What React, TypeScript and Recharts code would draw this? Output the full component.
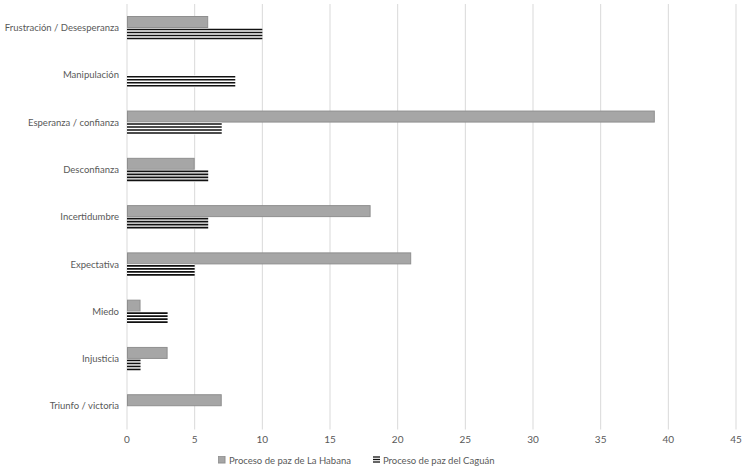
import { BarChart, Bar, XAxis, YAxis, CartesianGrid, Legend } from "recharts";

const categories = [
  "Frustración / Desesperanza",
  "Manipulación",
  "Esperanza / confianza",
  "Desconfianza",
  "Incertidumbre",
  "Expectativa",
  "Miedo",
  "Injusticia",
  "Triunfo / victoria",
];
const habana = [6, 0, 39, 5, 18, 21, 1, 3, 7];
const caguan = [10, 8, 7, 6, 6, 5, 3, 1, 0];
const xTicks = [0, 5, 10, 15, 20, 25, 30, 35, 40, 45];

const SERIES_HABANA = "Proceso de paz de La Habana";
const SERIES_CAGUAN = "Proceso de paz del Caguán";

const data = categories.map((name, i) => ({
  name,
  habana: habana[i],
  caguan: caguan[i],
}));

const FONT = "Lato, 'Open Sans', sans-serif";
const TEXT = "#595959";

function StripedBar(props: any) {
  const { x, y, width, height } = props;
  if (!width || width <= 0) return null;
  const n = 4;
  const step = height / n;
  const lines = [];
  for (let k = 0; k < n; k++) {
    const ly = y + step * k + step / 2;
    lines.push(<line key={k} x1={x} x2={x + width} y1={ly} y2={ly} stroke="#111" strokeWidth={1.6} />);
  }
  return (
    <g>
      <rect x={x} y={y} width={width} height={height} fill="#fff" />
      {lines}
    </g>
  );
}

function GrayBar(props: any) {
  const { x, y, width, height } = props;
  if (!width || width <= 0) return null;
  return <rect x={x + 0.5} y={y + 0.5} width={width - 1} height={height - 1} fill="#a6a6a6" stroke="#8f8f8f" strokeWidth={1} />;
}

function CategoryTick(props: any) {
  const { x, y, payload } = props;
  return (
    <text x={x} y={y} dy={3.5} textAnchor="end" fill={TEXT} fontSize={9.5} fontFamily={FONT}>
      {payload.value}
    </text>
  );
}

function LegendContent() {
  const item = { display: "inline-flex", alignItems: "center", marginRight: 22 } as const;
  return (
    <div style={{ fontFamily: FONT, fontSize: 9.5, color: TEXT, paddingLeft: 218, paddingTop: 3 }}>
      <span style={item}>
        <svg width={8} height={8} style={{ marginRight: 3 }}>
          <rect x={0} y={0} width={7} height={7} fill="#a6a6a6" stroke="#8f8f8f" />
        </svg>
        {SERIES_HABANA}
      </span>
      <span style={item}>
        <svg width={8} height={8} style={{ marginRight: 2 }}>
          <rect x={0} y={0} width={7} height={7} fill="#fff" />
          <line x1={0} x2={7} y1={1} y2={1} stroke="#111" strokeWidth={1.3} />
          <line x1={0} x2={7} y1={3.5} y2={3.5} stroke="#111" strokeWidth={1.3} />
          <line x1={0} x2={7} y1={6} y2={6} stroke="#111" strokeWidth={1.3} />
        </svg>
        {SERIES_CAGUAN}
      </span>
    </div>
  );
}

export default function App() {
  return (
    <div style={{ position: "absolute", left: 0, top: 0, width: 748, height: 475, background: "#fff" }}>
      <BarChart
        width={748}
        height={475}
        data={data}
        layout="vertical"
        margin={{ top: 4, right: 12, bottom: 9, left: 0 }}
        barSize={12}
        barGap={0}
      >
        <CartesianGrid horizontal={false} stroke="#d9d9d9" />
        <XAxis
          type="number"
          domain={[0, 45]}
          ticks={xTicks}
          axisLine={false}
          tickLine={false}
          tickMargin={0}
          tick={{ fill: TEXT, fontSize: 10, fontFamily: FONT }}
          height={22}
          interval={0}
        />
        <YAxis
          type="category"
          dataKey="name"
          width={127}
          axisLine={false}
          tickLine={false}
          interval={0}
          tick={<CategoryTick />}
        />
        <Legend verticalAlign="bottom" align="left" content={<LegendContent />} />
        <Bar dataKey="habana" name={SERIES_HABANA} shape={<GrayBar />} isAnimationActive={false} />
        <Bar dataKey="caguan" name={SERIES_CAGUAN} shape={<StripedBar />} isAnimationActive={false} />
      </BarChart>
    </div>
  );
}
